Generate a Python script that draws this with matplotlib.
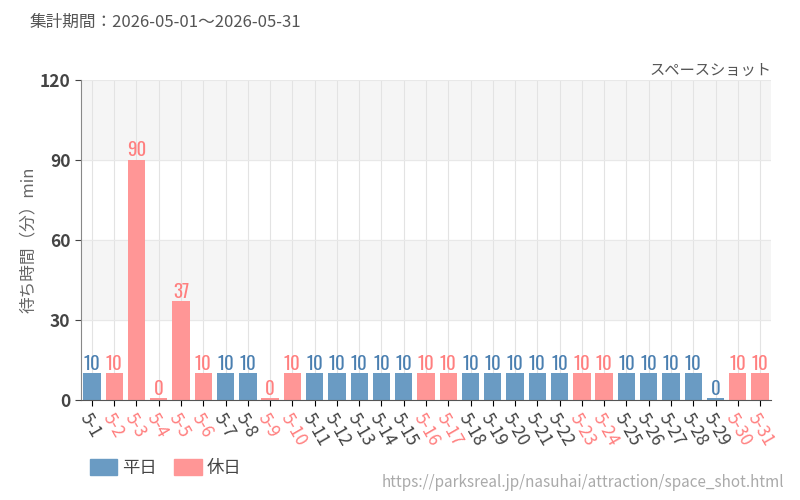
import matplotlib.pyplot as plt
import numpy as np

plt.rcParams['font.family'] = ['Noto Sans CJK JP', 'DejaVu Sans']

days = ['5-%d' % d for d in range(1, 32)]
waits = [10, 10, 90, 0, 37, 10, 10, 10, 0, 10,
         10, 10, 10, 10, 10, 10, 10, 10, 10, 10,
         10, 10, 10, 10, 10, 10, 10, 10, 0, 10, 10]
holidays = [2, 3, 4, 5, 6, 9, 10, 16, 17, 23, 24, 30, 31]

blue = '#6a9bc3'
red = '#ff9696'
blue_txt = '#4a7fb0'
red_txt = '#ff7f7f'

fig = plt.figure(figsize=(8, 5), dpi=100)
ax = fig.add_axes([0.101, 0.2, 0.863, 0.64])

x = np.arange(len(days))
is_hol = np.array([d in holidays for d in range(1, 32)])
colors = [red if h else blue for h in is_hol]
heights = np.maximum(np.array(waits, dtype=float), 0.6)

# background bands
for lo in (30, 90):
    ax.axhspan(lo, lo + 30, color='#f5f5f5', zorder=0)
for xi in x:
    ax.axvline(xi, color='#e3e3e3', lw=0.8, zorder=0.5)
for yy in (30, 60, 90, 120):
    ax.axhline(yy, color='#e8e8e8', lw=0.8, zorder=0.5)

ax.bar(x, heights, width=0.78, color=colors, zorder=2)
for xi, v, h in zip(x, waits, is_hol):
    ax.text(xi, max(v, 0.6) + 0.3, str(v), ha='center', va='bottom',
            fontsize=13.5, color=red_txt if h else blue_txt,
            family=['Oswald', 'DejaVu Sans'])

ax.set_xlim(-0.5, len(days) - 0.5)
ax.set_ylim(0, 120)
ax.set_yticks([0, 30, 60, 90, 120])
ax.tick_params(axis='y', labelsize=12.5, colors='#444444', length=4)
for lab in ax.get_yticklabels():
    lab.set_fontweight('bold')
ax.set_xticks(x)
ax.set_xticklabels(days, rotation=-60, ha='left', rotation_mode='anchor', fontsize=12.5)
for lab, h in zip(ax.get_xticklabels(), is_hol):
    lab.set_color(red_txt if h else '#444444')
ax.tick_params(axis='x', length=4, pad=3)

for s in ('top', 'right'):
    ax.spines[s].set_visible(False)
ax.spines['left'].set_color('#888888')
ax.spines['bottom'].set_color('#555555')

ax.set_ylabel('待ち時間（分）min', fontsize=12, color='#666666', labelpad=2)

fig.text(0.0375, 0.955, '集計期間：2026-05-01～2026-05-31', fontsize=12, color='#555555', va='center')
fig.text(0.964, 0.86, 'スペースショット', fontsize=11, color='#555555', ha='right', va='center')

# legend
fig.patches.append(plt.Rectangle((0.112, 0.05), 0.034, 0.032, color=blue, transform=fig.transFigure))
fig.text(0.152, 0.065, '平日', fontsize=12.5, color='#444444', va='center')
fig.patches.append(plt.Rectangle((0.218, 0.05), 0.034, 0.032, color=red, transform=fig.transFigure))
fig.text(0.258, 0.065, '休日', fontsize=12.5, color='#444444', va='center')
fig.text(0.98, 0.035, 'https://parksreal.jp/nasuhai/attraction/space_shot.html',
         fontsize=11, color='#aaaaaa', ha='right', va='center')

plt.savefig('out.png', dpi=100)
